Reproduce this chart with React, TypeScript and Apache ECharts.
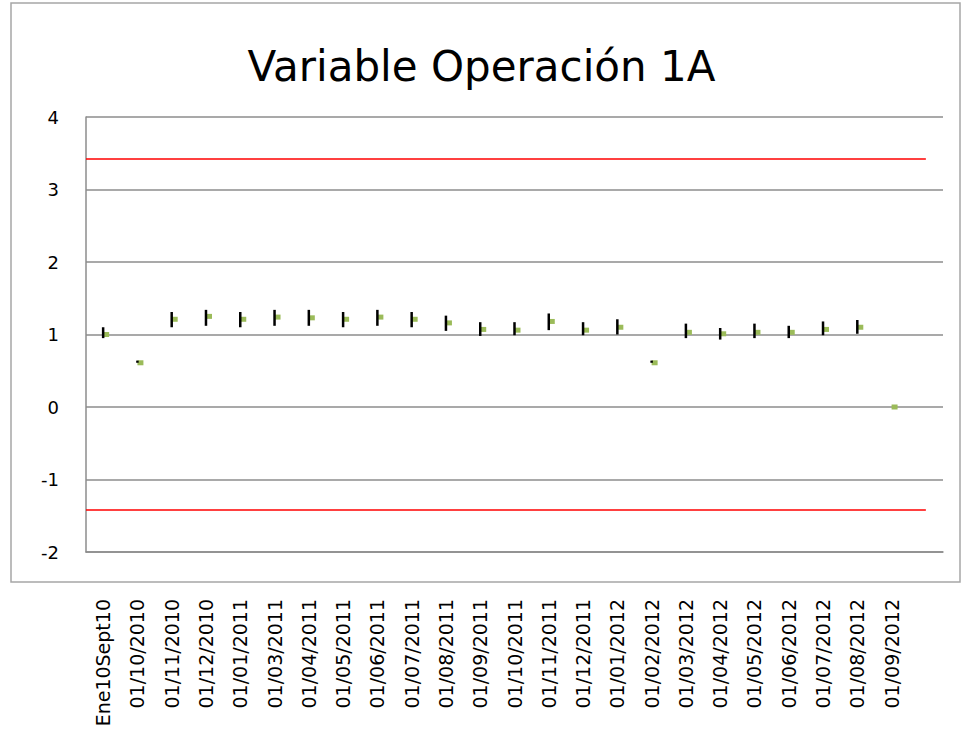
import React, { useEffect, useRef } from "react";
import * as echarts from "echarts";

const categories = [
  "Ene10Sept10", "01/10/2010", "01/11/2010", "01/12/2010", "01/01/2011", "01/03/2011",
  "01/04/2011", "01/05/2011", "01/06/2011", "01/07/2011", "01/08/2011", "01/09/2011",
  "01/10/2011", "01/11/2011", "01/12/2011", "01/01/2012", "01/02/2012", "01/03/2012",
  "01/04/2012", "01/05/2012", "01/06/2012", "01/07/2012", "01/08/2012", "01/09/2012", "",
];
const highs = [1.1, 0.64, 1.31, 1.34, 1.31, 1.34, 1.34, 1.31, 1.34, 1.31, 1.26, 1.17, 1.17, 1.29, 1.17, 1.21, 0.64, 1.15, 1.09, 1.15, 1.12, 1.18, 1.2, 0.0];
const lows = [0.95, 0.61, 1.1, 1.12, 1.1, 1.12, 1.12, 1.1, 1.12, 1.1, 1.05, 0.98, 0.99, 1.06, 0.99, 1.0, 0.61, 0.95, 0.93, 0.95, 0.95, 0.99, 1.01, 0.0];
const closes = [1.0, 0.61, 1.21, 1.25, 1.21, 1.24, 1.23, 1.21, 1.24, 1.21, 1.16, 1.07, 1.06, 1.18, 1.06, 1.1, 0.61, 1.03, 1.01, 1.03, 1.03, 1.07, 1.1, 0.0];
const upperLimit = 3.42;
const lowerLimit = -1.42;
const yTicks = [-2, -1, 0, 1, 2, 3, 4];

export default function App() {
  const ref = useRef<HTMLDivElement>(null);
  useEffect(() => {
    if (!ref.current) return;
    const chart = echarts.init(ref.current, null, { renderer: "svg" });
    const data = highs.map((h, i) => [i, h, lows[i], closes[i]]);
    const lastIdx = categories.length - 0.5;
    chart.setOption({
      animation: false,
      backgroundColor: "#ffffff",
      title: {
        text: "Variable Operación 1A",
        left: "center",
        top: 40,
        textStyle: { fontFamily: "DejaVu Sans", fontSize: 42, fontWeight: "normal", color: "#000" },
      },
      graphic: [
        {
          type: "rect",
          shape: { x: 11, y: 3, width: 949, height: 579 },
          style: { fill: "none", stroke: "#a6a6a6", lineWidth: 1.5 },
          silent: true,
        },
      ],
      grid: { left: 86, top: 117, right: 20, bottom: 200, containLabel: false },
      xAxis: [
        {
          type: "category",
          data: categories,
          boundaryGap: true,
          axisLine: { show: true, onZero: false, lineStyle: { color: "#8c8c8c", width: 1.5 } },
          axisTick: { show: false },
          axisLabel: {
            interval: 0,
            rotate: 90,
            margin: 47,
            fontFamily: "DejaVu Sans",
            fontSize: 19,
            color: "#000",
          },
          splitLine: { show: false },
        },
        { type: "value", min: 0, max: categories.length, show: false },
      ],
      yAxis: {
        type: "value",
        min: yTicks[0],
        max: yTicks[yTicks.length - 1],
        interval: 1,
        axisLine: { show: true, lineStyle: { color: "#8c8c8c", width: 1.5 } },
        axisTick: { show: false },
        axisLabel: { margin: 27, fontFamily: "DejaVu Sans", fontSize: 18, color: "#000" },
        splitLine: { show: true, lineStyle: { color: "#8c8c8c", width: 1.5 } },
      },
      series: [
        {
          type: "line",
          xAxisIndex: 1,
          data: [[0, upperLimit], [lastIdx, upperLimit]],
          symbol: "none",
          lineStyle: { color: "#ff0000", width: 1.5 },
          silent: true,
        },
        {
          type: "line",
          xAxisIndex: 1,
          data: [[0, lowerLimit], [lastIdx, lowerLimit]],
          symbol: "none",
          lineStyle: { color: "#ff0000", width: 1.5 },
          silent: true,
        },
        {
          type: "custom",
          xAxisIndex: 0,
          data,
          encode: { x: 0, y: [1, 2, 3] },
          renderItem: (_params: any, api: any) => {
            const i = api.value(0);
            const hi = api.coord([i, api.value(1)]);
            const lo = api.coord([i, api.value(2)]);
            const cl = api.coord([i, api.value(3)]);
            return {
              type: "group",
              children: [
                {
                  type: "rect",
                  shape: { x: cl[0], y: cl[1] - 2.5, width: 6, height: 5 },
                  style: { fill: "#9bbb59" },
                },
                {
                  type: "line",
                  shape: { x1: hi[0], y1: hi[1], x2: lo[0], y2: lo[1] },
                  style: { stroke: "#000000", lineWidth: 2.5 },
                },
              ],
            };
          },
        },
      ],
    });
    return () => chart.dispose();
  }, []);
  return (
    <div
      ref={ref}
      style={{ position: "fixed", left: 0, top: 0, width: 963, height: 752, background: "#fff" }}
    />
  );
}
